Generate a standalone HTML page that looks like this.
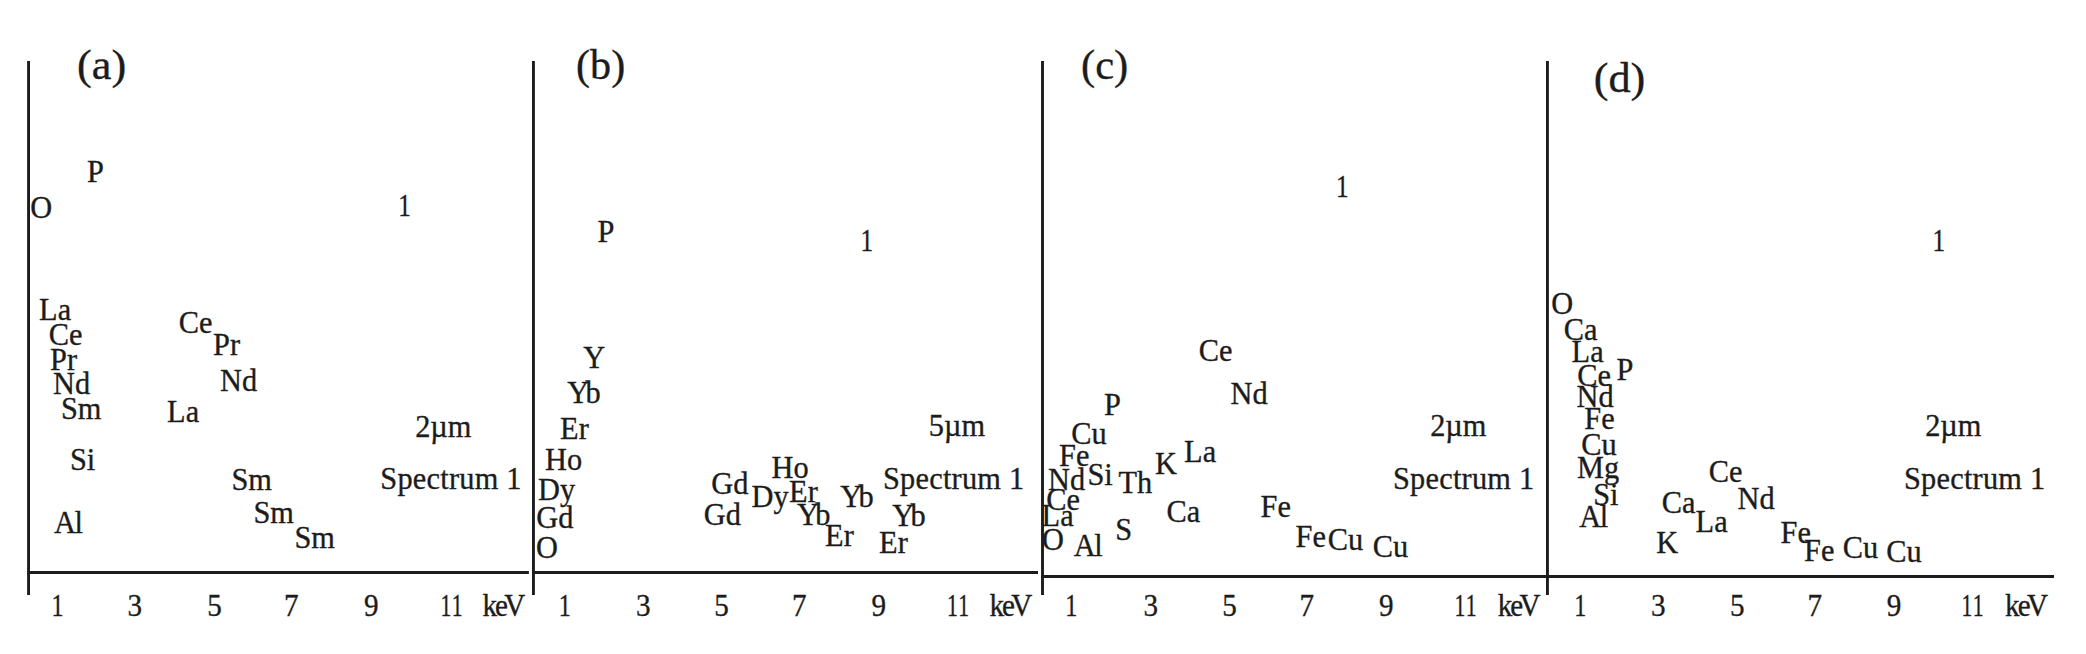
<!DOCTYPE html>
<html lang="en">
<head>
<meta charset="utf-8">
<title>EDS spectra</title>
<style>
html,body{margin:0;padding:0;background:#fff;}
body{width:2086px;height:654px;overflow:hidden;}
svg{display:block;}
text{font-family:"Liberation Serif","Times New Roman",serif;fill:#1c1c1c;stroke:#1c1c1c;stroke-width:0.35px;}
.l{font-size:32.3px;}
.b{font-size:43px;}
.x{font-size:31px;}
line{stroke:#1c1c1c;stroke-width:2.9;}
</style>
</head>
<body>
<svg width="2086" height="654" viewBox="0 0 2086 654">
<rect width="2086" height="654" fill="#ffffff"/>
<line x1="28.55" y1="61" x2="28.55" y2="595.1"/>
<line x1="533.45" y1="61" x2="533.45" y2="594.9"/>
<line x1="1042.5" y1="61" x2="1042.5" y2="594.9"/>
<line x1="1547.45" y1="61" x2="1547.45" y2="595"/>
<line x1="27.3" y1="572.45" x2="528.9" y2="572.45"/>
<line x1="532.4" y1="572.45" x2="1038" y2="572.45"/>
<line x1="1041.1" y1="576.5" x2="2054" y2="576.5"/>
<text class="b" transform="matrix(1.03 0 0 1 77.05 78.50)">(a)</text>
<text class="b" transform="matrix(0.98 0 0 1 576.05 78.80)">(b)</text>
<text class="b" transform="matrix(0.99 0 0 1 1081.03 78.80)">(c)</text>
<text class="b" transform="matrix(1.03 0 0 1 1593.65 92.30)">(d)</text>
<text class="l" transform="matrix(0.94 0 0 1 87.12 181.90)">P</text>
<text class="l" transform="matrix(0.94 0 0 1 30.16 217.90)">O</text>
<text class="l" transform="matrix(0.78 0 0 1 398.18 215.90)">1</text>
<text class="l" transform="matrix(0.94 0 0 1 39.12 320.20)">La</text>
<text class="l" transform="matrix(0.94 0 0 1 48.76 344.90)">Ce</text>
<text class="l" transform="matrix(0.94 0 0 1 50.12 369.90)">Pr</text>
<text class="l" transform="matrix(0.94 0 0 1 53.12 393.90)">Nd</text>
<text class="l" transform="matrix(0.94 0 0 1 60.97 418.70)">Sm</text>
<text class="l" transform="matrix(0.94 0 0 1 69.97 469.90)">Si</text>
<text class="l" transform="matrix(0.94 0 0 1 54.00 532.90)">A<tspan dx="-1.4">l</tspan></text>
<text class="l" transform="matrix(0.94 0 0 1 178.76 332.90)">Ce</text>
<text class="l" transform="matrix(0.94 0 0 1 213.12 354.90)">Pr</text>
<text class="l" transform="matrix(0.94 0 0 1 220.12 391.40)">Nd</text>
<text class="l" transform="matrix(0.94 0 0 1 167.12 421.90)">La</text>
<text class="l" transform="matrix(0.94 0 0 1 231.47 490.40)">Sm</text>
<text class="l" transform="matrix(0.94 0 0 1 253.47 523.10)">Sm</text>
<text class="l" transform="matrix(0.94 0 0 1 294.47 548.40)">Sm</text>
<text class="l" transform="matrix(0.94 0 0 1 415.16 436.60)">2µm</text>
<text class="l" transform="matrix(0.94 0 0 1 380.27 489.40)"><tspan letter-spacing="0.26">Spectrum 1</tspan></text>
<text class="l" transform="matrix(0.94 0 0 1 597.62 242.40)">P</text>
<text class="l" transform="matrix(0.78 0 0 1 860.58 250.90)">1</text>
<text class="l" transform="matrix(0.94 0 0 1 583.17 368.40)">Y</text>
<text class="l" transform="matrix(0.94 0 0 1 567.17 403.40)">Y<tspan dx="-3.9">b</tspan></text>
<text class="l" transform="matrix(0.94 0 0 1 560.12 439.40)">Er</text>
<text class="l" transform="matrix(0.94 0 0 1 545.12 469.90)">Ho</text>
<text class="l" transform="matrix(0.94 0 0 1 538.12 499.90)">Dy</text>
<text class="l" transform="matrix(0.94 0 0 1 536.26 528.40)">Gd</text>
<text class="l" transform="matrix(0.94 0 0 1 536.06 558.40)">O</text>
<text class="l" transform="matrix(0.94 0 0 1 711.26 494.40)">Gd</text>
<text class="l" transform="matrix(0.94 0 0 1 703.76 524.90)">Gd</text>
<text class="l" transform="matrix(0.94 0 0 1 771.62 477.90)">Ho</text>
<text class="l" transform="matrix(0.94 0 0 1 751.62 506.90)">Dy</text>
<text class="l" transform="matrix(0.94 0 0 1 789.12 501.90)">Er</text>
<text class="l" transform="matrix(0.94 0 0 1 840.17 506.90)">Y<tspan dx="-3.9">b</tspan></text>
<text class="l" transform="matrix(0.94 0 0 1 796.97 524.90)">Y<tspan dx="-3.9">b</tspan></text>
<text class="l" transform="matrix(0.94 0 0 1 825.12 545.90)">Er</text>
<text class="l" transform="matrix(0.94 0 0 1 892.17 525.90)">Y<tspan dx="-3.9">b</tspan></text>
<text class="l" transform="matrix(0.94 0 0 1 879.12 552.90)">Er</text>
<text class="l" transform="matrix(0.94 0 0 1 928.84 435.90)">5µm</text>
<text class="l" transform="matrix(0.94 0 0 1 882.97 489.40)"><tspan letter-spacing="0.26">Spectrum 1</tspan></text>
<text class="l" transform="matrix(0.78 0 0 1 1336.08 197.40)">1</text>
<text class="l" transform="matrix(0.94 0 0 1 1198.76 360.90)">Ce</text>
<text class="l" transform="matrix(0.94 0 0 1 1230.62 404.40)">Nd</text>
<text class="l" transform="matrix(0.94 0 0 1 1104.12 415.40)">P</text>
<text class="l" transform="matrix(0.94 0 0 1 1071.26 444.40)">Cu</text>
<text class="l" transform="matrix(0.94 0 0 1 1059.12 465.90)">Fe</text>
<text class="l" transform="matrix(0.94 0 0 1 1087.47 484.90)">Si</text>
<text class="l" transform="matrix(0.94 0 0 1 1048.12 489.90)">Nd</text>
<text class="l" transform="matrix(0.94 0 0 1 1118.45 493.40)">Th</text>
<text class="l" transform="matrix(0.94 0 0 1 1155.12 474.40)">K</text>
<text class="l" transform="matrix(0.94 0 0 1 1184.12 462.40)">La</text>
<text class="l" transform="matrix(0.94 0 0 1 1046.26 509.90)">Ce</text>
<text class="l" transform="matrix(0.94 0 0 1 1041.62 525.90)">La</text>
<text class="l" transform="matrix(0.94 0 0 1 1041.96 549.90)">O</text>
<text class="l" transform="matrix(0.94 0 0 1 1073.70 556.40)">A<tspan dx="-1.4">l</tspan></text>
<text class="l" transform="matrix(0.94 0 0 1 1115.17 539.90)">S</text>
<text class="l" transform="matrix(0.94 0 0 1 1166.46 522.40)">Ca</text>
<text class="l" transform="matrix(0.94 0 0 1 1260.62 516.90)">Fe</text>
<text class="l" transform="matrix(0.94 0 0 1 1295.62 546.90)">Fe</text>
<text class="l" transform="matrix(0.94 0 0 1 1327.76 549.90)">Cu</text>
<text class="l" transform="matrix(0.94 0 0 1 1372.76 556.90)">Cu</text>
<text class="l" transform="matrix(0.94 0 0 1 1430.16 435.90)">2µm</text>
<text class="l" transform="matrix(0.94 0 0 1 1392.97 489.40)"><tspan letter-spacing="0.26">Spectrum 1</tspan></text>
<text class="l" transform="matrix(0.78 0 0 1 1932.48 250.90)">1</text>
<text class="l" transform="matrix(0.94 0 0 1 1551.26 314.10)">O</text>
<text class="l" transform="matrix(0.94 0 0 1 1563.76 340.20)">Ca</text>
<text class="l" transform="matrix(0.94 0 0 1 1571.62 361.90)">La</text>
<text class="l" transform="matrix(0.94 0 0 1 1577.26 385.90)">Ce</text>
<text class="l" transform="matrix(0.94 0 0 1 1616.62 379.60)">P</text>
<text class="l" transform="matrix(0.94 0 0 1 1576.62 406.90)">Nd</text>
<text class="l" transform="matrix(0.94 0 0 1 1584.32 429.40)">Fe</text>
<text class="l" transform="matrix(0.94 0 0 1 1581.26 454.60)">Cu</text>
<text class="l" transform="matrix(0.94 0 0 1 1577.12 478.10)">Mg</text>
<text class="l" transform="matrix(0.94 0 0 1 1593.17 505.40)">Si</text>
<text class="l" transform="matrix(0.94 0 0 1 1579.20 526.90)">A<tspan dx="-1.4">l</tspan></text>
<text class="l" transform="matrix(0.94 0 0 1 1708.76 481.90)">Ce</text>
<text class="l" transform="matrix(0.94 0 0 1 1737.62 508.90)">Nd</text>
<text class="l" transform="matrix(0.94 0 0 1 1661.76 513.40)">Ca</text>
<text class="l" transform="matrix(0.94 0 0 1 1695.62 531.90)">La</text>
<text class="l" transform="matrix(0.94 0 0 1 1656.32 553.40)">K</text>
<text class="l" transform="matrix(0.94 0 0 1 1780.62 542.90)">Fe</text>
<text class="l" transform="matrix(0.94 0 0 1 1804.12 561.30)">Fe</text>
<text class="l" transform="matrix(0.94 0 0 1 1842.76 558.40)">Cu</text>
<text class="l" transform="matrix(0.94 0 0 1 1886.26 561.90)">Cu</text>
<text class="l" transform="matrix(0.94 0 0 1 1925.16 436.40)">2µm</text>
<text class="l" transform="matrix(0.94 0 0 1 1903.97 488.80)"><tspan letter-spacing="0.26">Spectrum 1</tspan></text>
<text class="x" transform="matrix(0.78 0 0 1 51.57 615.50)">1</text>
<text class="x" transform="matrix(0.94 0 0 1 127.60 615.50)">3</text>
<text class="x" transform="matrix(0.94 0 0 1 207.31 615.50)">5</text>
<text class="x" transform="matrix(0.94 0 0 1 284.08 615.50)">7</text>
<text class="x" transform="matrix(0.94 0 0 1 364.07 615.50)">9</text>
<text class="x" transform="matrix(0.7 0 0 1 440.59 615.50)">1<tspan dx="0.4">1</tspan></text>
<text class="x" transform="matrix(0.94 0 0 1 482.45 615.50)">k<tspan dx="-2.1">e</tspan><tspan dx="-3.9">V</tspan></text>
<text class="x" transform="matrix(0.78 0 0 1 558.87 615.50)">1</text>
<text class="x" transform="matrix(0.94 0 0 1 636.10 615.50)">3</text>
<text class="x" transform="matrix(0.94 0 0 1 714.31 615.50)">5</text>
<text class="x" transform="matrix(0.94 0 0 1 792.08 615.50)">7</text>
<text class="x" transform="matrix(0.94 0 0 1 871.57 615.50)">9</text>
<text class="x" transform="matrix(0.7 0 0 1 947.09 615.50)">1<tspan dx="0.4">1</tspan></text>
<text class="x" transform="matrix(0.94 0 0 1 989.45 615.50)">k<tspan dx="-2.1">e</tspan><tspan dx="-3.9">V</tspan></text>
<text class="x" transform="matrix(0.78 0 0 1 1065.37 615.50)">1</text>
<text class="x" transform="matrix(0.94 0 0 1 1143.60 615.50)">3</text>
<text class="x" transform="matrix(0.94 0 0 1 1222.31 615.50)">5</text>
<text class="x" transform="matrix(0.94 0 0 1 1299.58 615.50)">7</text>
<text class="x" transform="matrix(0.94 0 0 1 1379.07 615.50)">9</text>
<text class="x" transform="matrix(0.7 0 0 1 1454.59 615.50)">1<tspan dx="0.4">1</tspan></text>
<text class="x" transform="matrix(0.94 0 0 1 1497.75 615.50)">k<tspan dx="-2.1">e</tspan><tspan dx="-3.9">V</tspan></text>
<text class="x" transform="matrix(0.78 0 0 1 1574.27 615.50)">1</text>
<text class="x" transform="matrix(0.94 0 0 1 1651.10 615.50)">3</text>
<text class="x" transform="matrix(0.94 0 0 1 1730.01 615.50)">5</text>
<text class="x" transform="matrix(0.94 0 0 1 1807.58 615.50)">7</text>
<text class="x" transform="matrix(0.94 0 0 1 1886.67 615.50)">9</text>
<text class="x" transform="matrix(0.7 0 0 1 1961.59 615.50)">1<tspan dx="0.4">1</tspan></text>
<text class="x" transform="matrix(0.94 0 0 1 2005.05 615.50)">k<tspan dx="-2.1">e</tspan><tspan dx="-3.9">V</tspan></text>
</svg>
</body>
</html>
